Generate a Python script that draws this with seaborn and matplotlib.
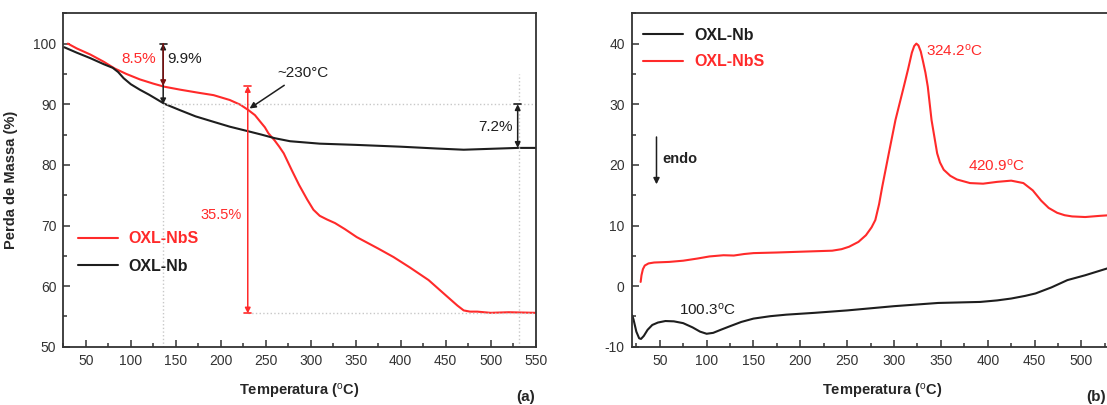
import numpy as np
import pandas as pd
import matplotlib
matplotlib.use("Agg")
import matplotlib.pyplot as plt
import seaborn as sns
from matplotlib.ticker import MultipleLocator

sns.set_style("ticks")
plt.rcParams['font.family'] = ['Liberation Sans', 'DejaVu Sans']
plt.rcParams['mathtext.fontset'] = 'custom'
plt.rcParams['mathtext.rm'] = 'Liberation Sans'
plt.rcParams['axes.unicode_minus'] = False

RED = '#ff2a2a'
BLK = '#1e1e1e'

# (a) TGA curves
tga_nb_temp = [26, 40, 55, 70, 80, 86, 92, 100, 110, 120, 128, 137, 155, 172, 192, 210, 229, 245,
               260, 277, 310, 350, 400, 440, 470, 490, 510, 530, 550]
tga_nb_mass = [99.4, 98.5, 97.6, 96.6, 96.0, 95.3, 94.3, 93.3, 92.4, 91.6, 90.9, 90.1, 89.0, 88.0,
               87.1, 86.3, 85.6, 85.0, 84.4, 83.9, 83.5, 83.3, 83.0, 82.7, 82.5, 82.6, 82.7, 82.8,
               82.8]
tga_nbs_temp = [30, 40, 55, 70, 82, 95, 110, 125, 137, 155, 175, 192, 210, 222, 231, 238, 244, 249,
                253, 260, 265, 270, 279, 287, 296, 303, 310, 318, 327, 338, 351, 375, 392, 410,
                431, 450, 463, 470, 477, 485, 500, 520, 550]
tga_nbs_mass = [100.0, 99.2, 98.2, 97.0, 95.9, 95.0, 94.1, 93.4, 92.9, 92.4, 91.9, 91.5, 90.7,
                89.9, 89.0, 88.2, 87.1, 86.2, 85.2, 84.0, 83.0, 81.9, 79.1, 76.7, 74.3, 72.6, 71.6,
                71.0, 70.4, 69.4, 68.1, 66.2, 64.8, 63.1, 61.0, 58.5, 56.8, 56.0, 55.8, 55.8, 55.6,
                55.7, 55.6]

# (b) DSC curves
dsc_nb_temp = [20.5, 22, 25, 28, 30, 33, 37, 42, 48, 56, 65, 75, 85, 93, 100, 107, 115, 125, 137,
               150, 168, 185, 215, 250, 300, 347, 392, 410, 425, 440, 451, 468, 485, 504, 527, 555]
dsc_nb_val = [-4.8, -5.5, -7.5, -8.6, -8.7, -8.2, -7.2, -6.4, -6.0, -5.75, -5.8, -6.1, -6.8, -7.5,
              -7.85, -7.7, -7.2, -6.6, -5.9, -5.35, -4.95, -4.7, -4.4, -4.0, -3.3, -2.77, -2.6,
              -2.35, -2.04, -1.6, -1.2, -0.2, 1.0, 1.8, 2.9, 4.0]
dsc_nbs_temp = [29.6, 30.5, 32, 34, 38, 44, 60, 75, 90, 103, 118, 129, 140, 150, 175, 204, 234,
                244, 252, 262, 270, 276, 280, 284, 287.4, 294.4, 301.5, 310.4, 315, 319, 321.5,
                323.8, 326, 328.5, 331, 333.5, 336, 340, 346, 349, 353, 360, 367, 381, 395, 410,
                425, 438, 448, 457, 465, 474, 482, 490, 504, 520, 540, 555]
dsc_nbs_val = [0.7, 1.8, 2.8, 3.4, 3.75, 3.9, 4.0, 4.2, 4.55, 4.9, 5.1, 5.05, 5.3, 5.45, 5.55,
               5.7, 5.85, 6.1, 6.5, 7.3, 8.4, 9.7, 10.9, 13.5, 16.4, 21.9, 27.4, 32.9, 35.8, 38.5,
               39.6, 40.0, 39.7, 38.7, 37.0, 35.2, 32.9, 27.4, 21.9, 20.4, 19.2, 18.2, 17.6, 17.0,
               16.9, 17.2, 17.4, 17.0, 15.8, 14.1, 12.9, 12.1, 11.7, 11.5, 11.4, 11.6, 11.8, 11.9]

df_tga = pd.concat([
    pd.DataFrame({'T': tga_nbs_temp, 'y': tga_nbs_mass, 'amostra': 'OXL-NbS'}),
    pd.DataFrame({'T': tga_nb_temp, 'y': tga_nb_mass, 'amostra': 'OXL-Nb'}),
])
df_dsc = pd.concat([
    pd.DataFrame({'T': dsc_nb_temp, 'y': dsc_nb_val, 'amostra': 'OXL-Nb'}),
    pd.DataFrame({'T': dsc_nbs_temp, 'y': dsc_nbs_val, 'amostra': 'OXL-NbS'}),
])
pal = {'OXL-Nb': BLK, 'OXL-NbS': RED}

fig = plt.figure(figsize=(11.07, 4.05), dpi=100)
ax1 = fig.add_axes([0.0572, 0.1437, 0.4267, 0.8235])
ax2 = fig.add_axes([0.5706, 0.1437, 0.491, 0.8235])

sns.lineplot(data=df_tga, x='T', y='y', hue='amostra', palette=pal, ax=ax1, lw=1.5,
             sort=False, estimator=None)
sns.lineplot(data=df_dsc, x='T', y='y', hue='amostra', palette=pal, ax=ax2, lw=1.5,
             sort=False, estimator=None)

for ax in (ax1, ax2):
    for s in ax.spines.values():
        s.set_linewidth(1.3)
        s.set_color('#333333')
    ax.tick_params(which='both', direction='in', labelsize=10, colors='#333333', width=1.1)
    ax.tick_params(which='major', length=5, pad=5)
    ax.tick_params(which='minor', length=3)
    ax.xaxis.set_minor_locator(MultipleLocator(25))
    ax.set_xlabel('Temperatura ($\\rm ^{o}$C)', fontsize=10.5, fontweight='bold')
    ax.set_ylabel('')

# ---- panel (a)
ax1.set_xlim(25, 550)
ax1.set_ylim(50, 105)
ax1.set_xticks(range(50, 551, 50))
ax1.set_yticks([50, 60, 70, 80, 90, 100])
ax1.yaxis.set_minor_locator(MultipleLocator(5))
ax1.set_ylabel('Perda de Massa (%)', fontsize=10.5, fontweight='bold')
ax1.yaxis.set_label_coords(-0.095, 0.5)
ax1.xaxis.set_label_coords(0.5, -0.105)

gcol = '#c8c8c8'
ax1.plot([136, 136], [50, 90], ls=':', color=gcol, lw=1)
ax1.plot([531, 531], [50, 95], ls=':', color=gcol, lw=1)
ax1.plot([136, 550], [90, 90], ls=':', color=gcol, lw=1)
ax1.plot([230, 550], [55.5, 55.5], ls=':', color=gcol, lw=1)

ap = dict(arrowstyle='<|-|>', color=BLK, lw=1.1, mutation_scale=8, shrinkA=0, shrinkB=0)
ax1.annotate('', xy=(136, 90), xytext=(136, 100), arrowprops=ap)
ax1.annotate('', xy=(136, 93), xytext=(136, 100),
             arrowprops=dict(arrowstyle='-|>', color='#7a1010', lw=1.1, mutation_scale=8,
                             shrinkA=0, shrinkB=0))
ax1.plot([132, 140], [100, 100], color=BLK, lw=1.2)
ax1.text(128, 97.4, '8.5%', color=RED, fontsize=11, ha='right', va='center')
ax1.text(140, 97.4, '9.9%', color=BLK, fontsize=11, ha='left', va='center')

ax1.annotate('', xy=(230, 55.5), xytext=(230, 93),
             arrowprops=dict(arrowstyle='<|-|>', color=RED, lw=1.1, mutation_scale=8,
                             shrinkA=0, shrinkB=0))
ax1.plot([226, 234], [93, 93], color=RED, lw=1.2)
ax1.plot([226, 234], [55.5, 55.5], color=RED, lw=1.2)
ax1.text(223, 71.8, '35.5%', color=RED, fontsize=10.5, ha='right', va='center')

ax1.annotate('~230°C', xy=(232, 89.3), xytext=(263, 95.2), fontsize=11, color=BLK,
             ha='left', va='center',
             arrowprops=dict(arrowstyle='-|>', color=BLK, lw=1.1, mutation_scale=9,
                             shrinkA=3, shrinkB=0))

ax1.annotate('', xy=(530, 82.8), xytext=(530, 90), arrowprops=ap)
ax1.plot([526, 534], [90, 90], color=BLK, lw=1.2)
ax1.text(525, 86.3, '7.2%', color=BLK, fontsize=11, ha='right', va='center')

leg1 = ax1.legend(loc='upper left', bbox_to_anchor=(0.0, 0.39), frameon=False,
                  fontsize=11.5, handlelength=2.5, handletextpad=0.7, labelspacing=0.8)
for t, h in zip(leg1.get_texts(), leg1.get_lines()):
    t.set_color(h.get_color())
    t.set_fontweight('bold')
for h in leg1.get_lines():
    h.set_linewidth(1.5)

fig.text(526 / 1107, 1 - 396.7 / 405, '(a)', fontsize=11, fontweight='bold',
         ha='center', va='center')

# ---- panel (b)
ax2.set_xlim(20, 600)
ax2.set_ylim(-10, 45)
ax2.set_xticks(range(50, 501, 50))
ax2.set_yticks([-10, 0, 10, 20, 30, 40])
ax2.yaxis.set_minor_locator(MultipleLocator(5))
ax2.xaxis.set_label_coords(0.4605, -0.105)

ax2.text(334, 38.9, '324.2$\\rm ^{o}$C', color=RED, fontsize=11, ha='left', va='center')
ax2.text(409, 19.9, '420.9$\\rm ^{o}$C', color=RED, fontsize=11, ha='center', va='center')
ax2.text(101, -3.9, '100.3$\\rm ^{o}$C', color=BLK, fontsize=11, ha='center', va='center')

ax2.annotate('', xy=(46.5, 16.8), xytext=(46.5, 24.6),
             arrowprops=dict(arrowstyle='-|>', color=BLK, lw=1.1, mutation_scale=9,
                             shrinkA=0, shrinkB=0))
ax2.text(52.5, 21, 'endo', fontsize=10.5, fontweight='bold', color='#222222', ha='left',
         va='center')

leg2 = ax2.legend(loc='upper left', bbox_to_anchor=(-0.005, 1.0), frameon=False,
                  fontsize=11.5, handlelength=2.5, handletextpad=0.7, labelspacing=0.72)
for t, h in zip(leg2.get_texts(), leg2.get_lines()):
    t.set_color(h.get_color())
    t.set_fontweight('bold')
for h in leg2.get_lines():
    h.set_linewidth(1.5)

fig.text(1106 / 1107, 1 - 396.7 / 405, '(b)', fontsize=11, fontweight='bold', ha='right',
         va='center')

fig.savefig('out.png', dpi=100)
